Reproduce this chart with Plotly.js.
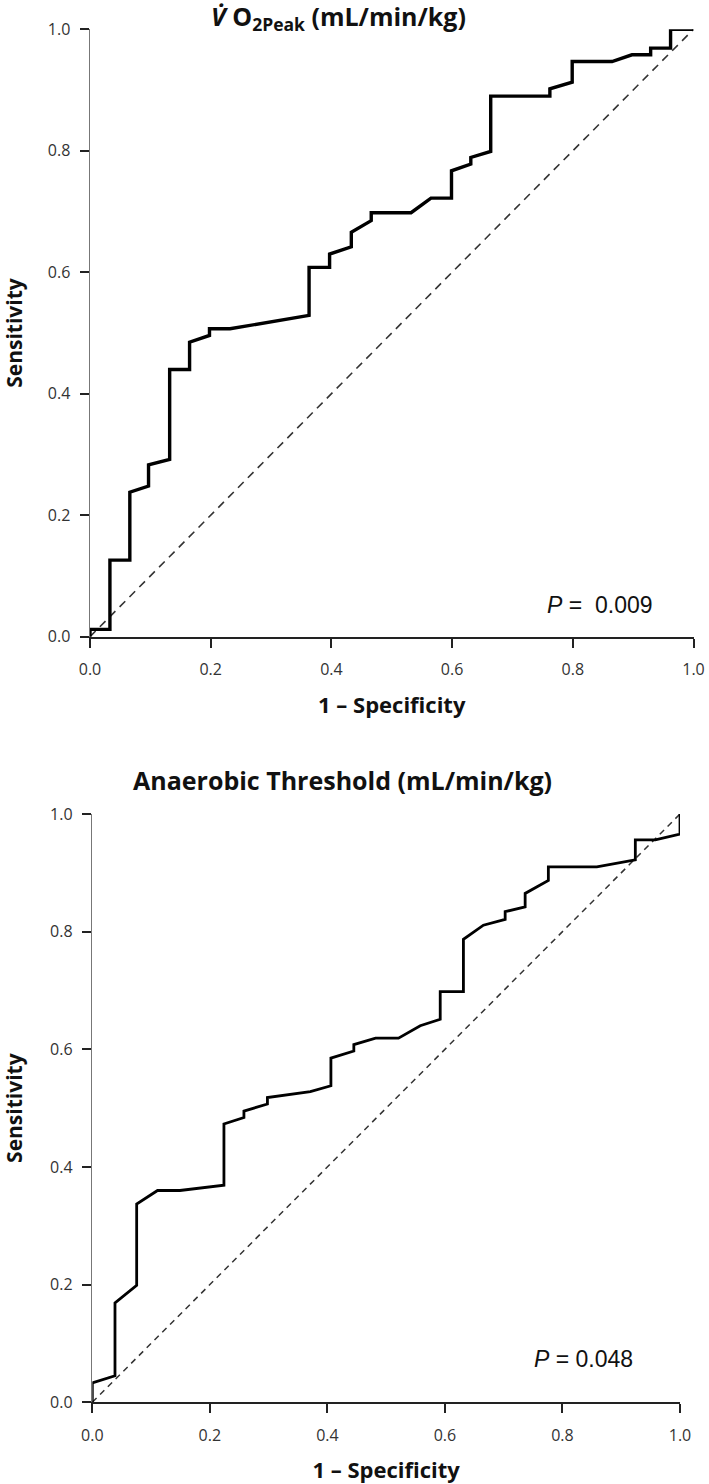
<!DOCTYPE html>
<html>
<head>
<meta charset="utf-8">
<script src="https://cdn.plot.ly/plotly-3.0.1.min.js"></script>
<style>html,body{margin:0;padding:0;background:#fff;}#chart{width:709px;height:1484px;}</style>
</head>
<body>
<div id="chart"></div>
<script>
// ---- Data ----
const vo2_fpr = [0, 0, 0.033, 0.033, 0.066, 0.066, 0.097, 0.097, 0.132, 0.132, 0.165, 0.165, 0.198, 0.198, 0.232, 0.363, 0.363, 0.397, 0.397, 0.433, 0.433, 0.466, 0.466, 0.532, 0.565, 0.599, 0.599, 0.631, 0.631, 0.664, 0.664, 0.762, 0.762, 0.799, 0.799, 0.865, 0.898, 0.929, 0.929, 0.962, 0.962, 1.0];
const vo2_tpr = [0, 0.012, 0.012, 0.126, 0.126, 0.238, 0.248, 0.283, 0.292, 0.440, 0.440, 0.485, 0.496, 0.507, 0.507, 0.529, 0.608, 0.608, 0.630, 0.642, 0.666, 0.685, 0.698, 0.698, 0.722, 0.722, 0.767, 0.778, 0.789, 0.799, 0.890, 0.890, 0.902, 0.913, 0.947, 0.947, 0.958, 0.958, 0.969, 0.969, 1.0, 1.0];

const at_fpr = [0, 0, 0.0386, 0.0386, 0.0755, 0.0755, 0.111, 0.149, 0.224, 0.224, 0.258, 0.258, 0.298, 0.298, 0.371, 0.406, 0.406, 0.445, 0.445, 0.482, 0.521, 0.558, 0.592, 0.592, 0.6315, 0.6315, 0.6655, 0.7025, 0.7025, 0.7365, 0.7365, 0.776, 0.776, 0.8585, 0.924, 0.924, 0.958, 1.0, 1.0];
const at_tpr = [0, 0.033, 0.045, 0.169, 0.199, 0.337, 0.360, 0.360, 0.369, 0.473, 0.484, 0.495, 0.507, 0.518, 0.528, 0.538, 0.585, 0.597, 0.608, 0.619, 0.619, 0.640, 0.651, 0.698, 0.698, 0.787, 0.811, 0.821, 0.834, 0.842, 0.865, 0.887, 0.910, 0.910, 0.922, 0.956, 0.956, 0.966, 1.0];

const diag_x = [0, 1];
const diag_y = [0, 1];

const tick_vals = [0, 0.2, 0.4, 0.6, 0.8, 1.0];
const tick_text = ["0.0", "0.2", "0.4", "0.6", "0.8", "1.0"];

const title_top = "<b><i>V\u0307</i> O<sub>2Peak</sub> (mL/min/kg)</b>";
const title_bottom = "<b>Anaerobic Threshold (mL/min/kg)</b>";
const x_title = "<b>1 \u2013 Specificity</b>";
const y_title = "<b>Sensitivity</b>";
const p_top = "<i>P</i> =  0.009";
const p_bottom = "<i>P</i> = 0.048";

// ---- Figure ----
const W = 709, H = 1484;
const FONT = "Open Sans, DejaVu Sans, sans-serif";

function xaxisCfg(domain, anchor) {
  return {
    domain: domain, anchor: anchor, range: [0, 1], fixedrange: true,
    tickvals: tick_vals, ticktext: tick_text,
    ticks: "outside", ticklen: 9, tickwidth: 2, tickcolor: "#222",
    ticklabelstandoff: 8,
    showline: true, linecolor: "#222", linewidth: 2,
    showgrid: false, zeroline: false,
    tickfont: {family: FONT, size: 16, color: "#333"},
    title: {text: x_title, font: {family: FONT, size: 22, color: "#111"}, standoff: 19}
  };
}
function yaxisCfg(domain, anchor) {
  return {
    domain: domain, anchor: anchor, range: [0, 1], fixedrange: true,
    tickvals: tick_vals, ticktext: tick_text,
    ticks: "outside", ticklen: 9, tickwidth: 2, tickcolor: "#222",
    ticklabelstandoff: 6,
    showline: true, linecolor: "#777", linewidth: 1.5,
    showgrid: false, zeroline: false,
    tickfont: {family: FONT, size: 16, color: "#333"},
    title: {text: y_title, font: {family: FONT, size: 21, color: "#111"}, standoff: 22}
  };
}

const traces = [
  {x: diag_x, y: diag_y, xaxis: "x", yaxis: "y", mode: "lines",
   line: {color: "#333", width: 1.6, dash: "8px,6px"}, hoverinfo: "skip"},
  {x: vo2_fpr, y: vo2_tpr, xaxis: "x", yaxis: "y", mode: "lines",
   line: {color: "#000", width: 3.4}, name: "VO2Peak"},
  {x: diag_x, y: diag_y, xaxis: "x2", yaxis: "y2", mode: "lines",
   line: {color: "#333", width: 1.5, dash: "6px,5px"}, hoverinfo: "skip"},
  {x: at_fpr, y: at_tpr, xaxis: "x2", yaxis: "y2", mode: "lines",
   line: {color: "#000", width: 2.8}, name: "Anaerobic Threshold"}
];

const layout = {
  width: W, height: H,
  margin: {l: 0, r: 0, t: 0, b: 0},
  paper_bgcolor: "#fff", plot_bgcolor: "#fff",
  showlegend: false,
  xaxis: xaxisCfg([90 / W, 693.5 / W], "y"),
  yaxis: yaxisCfg([1 - 636.7 / H, 1 - 29.3 / H], "x"),
  xaxis2: xaxisCfg([92.3 / W, 680 / W], "y2"),
  yaxis2: yaxisCfg([1 - 1402.3 / H, 1 - 814 / H], "x2"),
  annotations: [
    {text: title_top, xref: "paper", yref: "paper", x: 338 / W, y: 1 - 17 / H,
     xanchor: "center", yanchor: "middle", showarrow: false,
     font: {family: FONT, size: 25, color: "#111"}},
    {text: title_bottom, xref: "paper", yref: "paper", x: 342 / W, y: 1 - 780 / H,
     xanchor: "center", yanchor: "middle", showarrow: false,
     font: {family: FONT, size: 25, color: "#111"}},
    {text: p_top, xref: "x", yref: "y", x: 0.845, y: 0.053,
     xanchor: "center", yanchor: "middle", showarrow: false,
     font: {family: "Liberation Sans, Arial, sans-serif", size: 23, color: "#111"}},
    {text: p_bottom, xref: "x2", yref: "y2", x: 0.835, y: 0.074,
     xanchor: "center", yanchor: "middle", showarrow: false,
     font: {family: "Liberation Sans, Arial, sans-serif", size: 23, color: "#111"}}
  ]
};

Plotly.newPlot("chart", traces, layout, {staticPlot: true, displayModeBar: false});
</script>
</body>
</html>
